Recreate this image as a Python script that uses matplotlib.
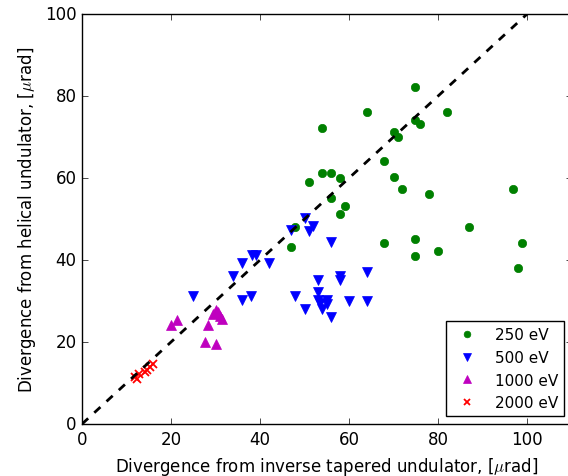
import matplotlib
matplotlib.use('Agg')
import matplotlib.pyplot as plt
import numpy as np

plt.style.use('classic')

# divergence values, [urad]
tap_250 = [74.9, 64.0, 82.0, 53.9, 74.9, 76.0, 70.0, 70.9, 67.9, 53.9, 56.0, 58.0, 51.0, 70.0,
           72.0, 78.0, 96.9, 56.0, 59.0, 58.0, 47.9, 47.0, 87.0, 67.9, 74.9, 74.9, 80.0, 98.9, 97.9]
hel_250 = [82.2, 76.2, 76.2, 72.1, 74.1, 73.2, 71.2, 70.1, 64.1, 61.1, 61.1, 60.1, 59.1, 60.2,
           57.2, 56.1, 57.2, 55.0, 53.1, 51.1, 48.0, 43.1, 48.1, 44.1, 45.1, 41.0, 42.1, 44.1, 38.0]

tap_500 = [50.0, 47.0, 51.0, 52.0, 56.0, 38.1, 39.1, 36.0, 42.0, 34.0, 24.9, 36.0, 38.0,
           53.0, 58.0, 58.0, 64.0, 47.9, 53.0, 53.0, 55.0, 55.0, 54.0, 50.0, 56.0, 60.0, 64.0, 53.5]
hel_500 = [50.2, 47.2, 47.1, 48.4, 44.3, 41.2, 41.2, 39.2, 39.2, 36.2, 31.1, 30.2, 31.1,
           35.0, 36.2, 35.0, 37.1, 31.1, 32.1, 30.3, 30.3, 29.3, 28.0, 28.0, 26.0, 30.1, 30.1, 29.5]

tap_1000 = [20.1, 21.4, 30.1, 29.5, 31.0, 31.4, 28.4, 27.6, 30.1, 30.5]
hel_1000 = [24.1, 25.4, 27.9, 26.8, 26.4, 25.6, 24.1, 20.1, 19.5, 27.3]

tap_2000 = [11.9, 12.7, 14.5, 15.3, 16.0, 14.2, 12.3]
hel_2000 = [11.4, 12.2, 13.2, 13.8, 14.6, 12.6, 11.0]

fig = plt.figure(figsize=(5.68, 4.77), dpi=100)
ax = fig.add_axes([0.1444, 0.109, 0.862, 0.8596])

ax.plot(tap_250, hel_250, 'o', color='g', mec='g', markersize=6, label='250 eV')
ax.plot(tap_500, hel_500, 'v', color='b', mec='b', markersize=7, label='500 eV')
ax.plot(tap_1000, hel_1000, '^', color='m', mec='m', markersize=7, label='1000 eV')
ax.plot(tap_2000, hel_2000, 'x', color='r', mec='r', markersize=6, markeredgewidth=1.3,
        label='2000 eV')
ax.plot([0, 110], [0, 110], 'k--', linewidth=2)

ax.set_xlim(0, 110)
ax.set_ylim(0, 100)
ax.set_xticks([0, 20, 40, 60, 80, 100])
ax.set_yticks([0, 20, 40, 60, 80, 100])
ax.tick_params(labelsize=12)
ax.set_xlabel(r'Divergence from inverse tapered undulator, [$\mu$rad]', fontsize=12)
ax.set_ylabel(r'Divergence from helical undulator, [$\mu$rad]', fontsize=12)
ax.legend(loc='lower right', numpoints=1, fontsize=11, markerscale=0.8)

fig.savefig('out.png', dpi=100)
